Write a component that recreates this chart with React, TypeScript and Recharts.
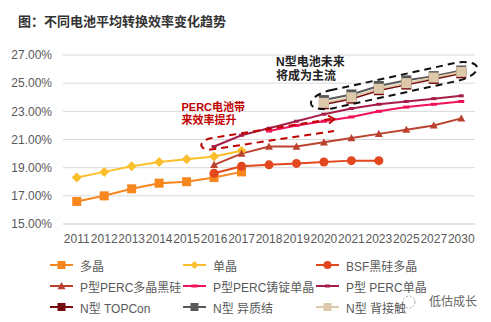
import React from 'react';
import { LineChart, Line, XAxis, YAxis, CartesianGrid } from 'recharts';

const categories = ['2011', '2012', '2013', '2014', '2015', '2016', '2017', '2018', '2019', '2020', '2021', '2023', '2025', '2027', '2030'];
const yTicks = [15, 17, 19, 21, 23, 25, 27];

const duojing = [16.6, 17.0, 17.5, 17.9, 18.0, 18.3, 18.7, null, null, null, null, null, null, null, null];
const danjing = [18.3, 18.7, 19.1, 19.4, 19.6, 19.8, 20.2, null, null, null, null, null, null, null, null];
const bsf = [null, null, null, null, null, 18.6, 19.1, 19.2, 19.3, 19.4, 19.5, 19.5, null, null, null];
const percDuo = [null, null, null, null, null, 19.2, 20.0, 20.5, 20.5, 20.8, 21.1, 21.4, 21.7, 22.0, 22.5];
const percZhuding = [null, null, null, null, null, null, null, 21.6, 22.0, 22.3, 22.6, 23.0, 23.3, 23.5, 23.7];
const percDan = [null, null, null, null, null, 20.5, 21.3, 21.8, 22.3, 22.8, 23.2, 23.5, 23.7, 23.9, 24.1];
const topcon = [null, null, null, null, null, null, null, null, null, 23.5, 23.9, 24.5, 24.9, 25.3, 25.7];
const hjt = [null, null, null, null, null, null, null, null, null, 23.8, 24.2, 24.8, 25.2, 25.5, 25.9];
const ibc = [null, null, null, null, null, null, null, null, null, 23.6, 24.0, 24.6, 25.0, 25.4, 25.8];

type Shape = 'square' | 'diamond' | 'circle' | 'triangle' | 'dash';

const seriesDefs: { key: string; name: string; values: (number | null)[]; color: string; shape: Shape; size: number }[] = [
  { key: 'duojing', name: '多晶', values: duojing, color: '#F7861F', shape: 'square', size: 9 },
  { key: 'danjing', name: '单晶', values: danjing, color: '#FBBF2D', shape: 'diamond', size: 10 },
  { key: 'bsf', name: 'BSF黑硅多晶', values: bsf, color: '#E2471D', shape: 'circle', size: 9 },
  { key: 'percDuo', name: 'P型PERC多晶黑硅', values: percDuo, color: '#BC4230', shape: 'triangle', size: 8 },
  { key: 'percZhuding', name: 'P型PERC铸锭单晶', values: percZhuding, color: '#EF1457', shape: 'dash', size: 6 },
  { key: 'percDan', name: 'P型 PERC单晶', values: percDan, color: '#A51E48', shape: 'dash', size: 5 },
  { key: 'topcon', name: 'N型 TOPCon', values: topcon, color: '#760B0E', shape: 'square', size: 10 },
  { key: 'hjt', name: 'N型 异质结', values: hjt, color: '#595959', shape: 'square', size: 10 },
  { key: 'ibc', name: 'N型 背接触', values: ibc, color: '#DDC9A9', shape: 'square', size: 10 },
];

const data = categories.map((c, i) => {
  const row: Record<string, any> = { year: c };
  seriesDefs.forEach((s) => {
    row[s.key] = s.values[i];
  });
  return row;
});

function marker(shape: Shape, color: string, size: number, cx: number, cy: number, key?: any) {
  const h = size / 2;
  switch (shape) {
    case 'square':
      return <rect key={key} x={cx - h} y={cy - h} width={size} height={size} fill={color} />;
    case 'diamond':
      return <path key={key} d={`M${cx},${cy - h} L${cx + h},${cy} L${cx},${cy + h} L${cx - h},${cy} Z`} fill={color} />;
    case 'circle':
      return <circle key={key} cx={cx} cy={cy} r={h} fill={color} />;
    case 'triangle':
      return <path key={key} d={`M${cx},${cy - h} L${cx + h},${cy + h * 0.8} L${cx - h},${cy + h * 0.8} Z`} fill={color} />;
    case 'dash':
    default:
      return <rect key={key} x={cx - h} y={cy - 1.5} width={size} height={3} fill={color} />;
  }
}

const makeDot = (shape: Shape, color: string, size: number) => (props: any) => {
  const { cx, cy, value, index } = props;
  if (cx == null || cy == null || value == null) return <g key={`e${index}`} />;
  return marker(shape, color, size, cx, cy, `d${index}`);
};

const FONT = "'Liberation Sans', Arial, 'Noto Sans CJK SC', sans-serif";

function LegendBlock() {
  const colX = [50, 183, 316];
  const rowY = [265, 286, 307];
  return (
    <div style={{ position: 'absolute', left: 0, top: 0, width: 491, height: 322, pointerEvents: 'none' }}>
      {seriesDefs.map((s, i) => {
        const col = i % 3;
        const row = Math.floor(i / 3);
        return (
          <div
            key={s.key}
            style={{
              position: 'absolute',
              left: colX[col],
              top: rowY[row] - 9,
              height: 18,
              display: 'flex',
              alignItems: 'center',
              whiteSpace: 'nowrap',
              fontFamily: FONT,
              fontSize: 12,
              color: '#595959',
            }}
          >
            <svg width={23} height={12} style={{ marginRight: 7 }}>
              <line x1={0} y1={6} x2={23} y2={6} stroke={s.color} strokeWidth={2} />
              {marker(s.shape, s.color, Math.min(s.size, 8), 11.5, 6)}
            </svg>
            <span>{s.name}</span>
          </div>
        );
      })}
    </div>
  );
}

function Annotations() {
  return (
    <svg width={491} height={322} style={{ position: 'absolute', left: 0, top: 0, pointerEvents: 'none' }}>
      <rect
        x={394 - 85}
        y={85.6 - 9}
        width={170}
        height={18}
        rx={22}
        ry={9}
        fill="none"
        stroke="#111"
        strokeWidth={2}
        strokeDasharray="7 5"
        transform="rotate(-12.4 394 85.6)"
      />
      <path
        d="M331 119 L212 138 C199 140, 197 150, 211 149.5 L334 131"
        fill="none"
        stroke="#C00000"
        strokeWidth={2}
        strokeDasharray="7 5"
      />
      <path d="M328 115.5 L334.5 119.2 L329 123.5" fill="none" stroke="#C00000" strokeWidth={2} />
      <text x={276} y={66} fontFamily={FONT} fontSize={12} fontWeight="bold" fill="#222">N型电池未来</text>
      <text x={276} y={79.5} fontFamily={FONT} fontSize={12} fontWeight="bold" fill="#222">将成为主流</text>
      <text x={181.5} y={110.6} fontFamily={FONT} fontSize={11} fontWeight="bold" fill="#C00000">PERC电池带</text>
      <text x={181.5} y={124} fontFamily={FONT} fontSize={11} fontWeight="bold" fill="#C00000">来效率提升</text>
      <circle cx={409} cy={302} r={6} fill="none" stroke="#aaa" strokeWidth={1} strokeDasharray="2 1.5" />
      <text x={429} y={306} fontFamily={FONT} fontSize={12} fill="#666">低估成长</text>
    </svg>
  );
}

export default function App() {
  return (
    <div style={{ position: 'fixed', left: 0, top: 0, width: 491, height: 322, background: '#fff', fontFamily: FONT }}>
      <div
        style={{
          position: 'absolute',
          left: 18,
          top: 13,
          fontSize: 13,
          fontWeight: 'bold',
          color: '#333',
          lineHeight: '18px',
          whiteSpace: 'nowrap',
        }}
      >
        图：不同电池平均转换效率变化趋势
      </div>
      <LineChart width={491} height={322} data={data} margin={{ top: 55, right: 16, bottom: 68, left: 0 }}>
        <CartesianGrid vertical={false} stroke="#D9D9D9" strokeWidth={1} />
        <XAxis
          dataKey="year"
          height={30}
          padding={{ left: 13.75, right: 13.75 }}
          tickLine={false}
          axisLine={{ stroke: '#D9D9D9' }}
          tickSize={0}
          tickMargin={10}
          interval={0}
          tick={{ fontSize: 12, fill: '#595959', fontFamily: FONT }}
        />
        <YAxis
          width={63}
          domain={[15, 27]}
          ticks={yTicks}
          tickFormatter={(v: number) => `${v.toFixed(2)}%`}
          axisLine={false}
          tickLine={false}
          tickSize={0}
          tickMargin={11}
          tick={{ fontSize: 12, fill: '#595959', fontFamily: FONT }}
        />
        {seriesDefs.map((s) => (
          <Line
            key={s.key}
            dataKey={s.key}
            name={s.name}
            stroke={s.color}
            strokeWidth={2}
            dot={makeDot(s.shape, s.color, s.size)}
            activeDot={false}
            isAnimationActive={false}
          />
        ))}
      </LineChart>
      <Annotations />
      <LegendBlock />
    </div>
  );
}
